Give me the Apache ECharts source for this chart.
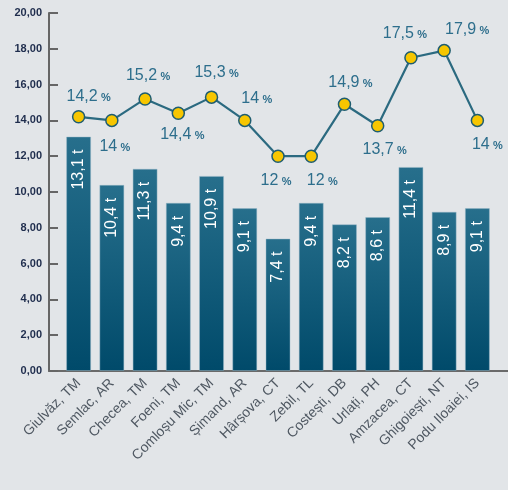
<!DOCTYPE html>
<html>
<head>
<meta charset="utf-8">
<script src="https://cdn.jsdelivr.net/npm/echarts@6/dist/echarts.min.js"></script>
<style>
  html, body { margin: 0; padding: 0; background: #e2e5e8; }
  #chart { width: 508px; height: 490px; }
</style>
</head>
<body>
<div id="chart"></div>
<script>
// Localities (village, county)
const categories = [
  'Giulvăz, TM', 'Semlac, AR', 'Checea, TM', 'Foeni, TM', 'Comloșu Mic, TM',
  'Șimand, AR', 'Hârșova, CT', 'Zebil, TL', 'Costești, DB', 'Urlați, PH',
  'Amzacea, CT', 'Ghigoiești, NT', 'Podu Iloaiei, IS'
];
// Yield, tonnes per hectare
const yieldT = [13.1, 10.4, 11.3, 9.4, 10.9, 9.1, 7.4, 9.4, 8.2, 8.6, 11.4, 8.9, 9.1];
// Moisture at harvest, %
const moisture = [14.2, 14, 15.2, 14.4, 15.3, 14, 12, 12, 14.9, 13.7, 17.5, 17.9, 14];
// Value axis ticks
const yMin = 0, yMax = 20, yStep = 2;

// Placement of each percentage label relative to its point [dx, dy]
const pctLabelOffsets = [
  [10, -20], [3, 26], [3, -23], [4, 21], [5, -25], [12, -22], [-2, 24],
  [11, 24], [6, -22], [7, 24], [-6, -24], [23, -21], [10, 24]
];

const fmt = v => String(v).replace('.', ',');

const chart = echarts.init(document.getElementById('chart'), null, { renderer: 'canvas' });

const gridTop = 13, gridBottom = 119;

chart.setOption({
  backgroundColor: '#e2e5e8',
  animation: false,
  grid: [
    { left: 62, width: 432, top: gridTop, bottom: gridBottom },
    { left: 49, right: 0, top: gridTop, bottom: gridBottom }
  ],
  xAxis: [
    {
      type: 'category', gridIndex: 0, data: categories,
      axisLine: { show: false }, axisTick: { show: false },
      axisLabel: {
        rotate: 45, margin: 10, interval: 0,
        color: '#4f5862', fontSize: 14, fontFamily: 'Liberation Sans, Arial, sans-serif'
      }
    },
    {
      type: 'value', gridIndex: 1, min: 0, max: 1,
      axisLine: { show: true, onZero: false, lineStyle: { color: '#6a6a6a', width: 2 } },
      axisTick: { show: false }, axisLabel: { show: false }, splitLine: { show: false }
    }
  ],
  yAxis: [
    {
      type: 'value', gridIndex: 0, min: yMin, max: yMax, interval: yStep, offset: 13,
      axisLine: { show: true, lineStyle: { color: '#666666', width: 2 } },
      axisTick: { show: true, inside: true, length: 9, lineStyle: { color: '#666666', width: 2 } },
      splitLine: { show: false },
      axisLabel: {
        margin: 7, color: '#1f2d4d', fontSize: 11, fontWeight: 'bold',
        fontFamily: 'Liberation Sans, Arial, sans-serif',
        formatter: v => v.toFixed(2).replace('.', ',')
      }
    },
    { type: 'value', gridIndex: 1, show: false, min: 0, max: 1 }
  ],
  series: [
    {
      type: 'bar', xAxisIndex: 0, yAxisIndex: 0,
      data: yieldT, barWidth: 25,
      itemStyle: {
        color: new echarts.graphic.LinearGradient(0, 0, 0, 1, [
          { offset: 0, color: '#276f8c' },
          { offset: 1, color: '#004a6a' }
        ]),
        borderColor: 'rgba(150,185,200,0.45)', borderWidth: 1
      },
      label: {
        show: true, position: 'insideTop', distance: 13, rotate: 90,
        align: 'right', verticalAlign: 'middle',
        color: '#ffffff', fontSize: 16, fontFamily: 'Liberation Sans, Arial, sans-serif',
        formatter: p => fmt(p.value) + ' t'
      }
    },
    {
      type: 'line', xAxisIndex: 0, yAxisIndex: 0,
      data: moisture.map((v, i) => ({
        value: v,
        label: { offset: pctLabelOffsets[i] }
      })),
      symbol: 'circle', symbolSize: 12,
      lineStyle: { color: '#2b6a80', width: 2.2 },
      itemStyle: { color: '#f7c600', borderColor: '#1f5d70', borderWidth: 1.5 },
      label: {
        show: true, position: 'inside', align: 'center', verticalAlign: 'middle',
        formatter: p => '{v|' + fmt(p.value) + '} {p|%}',
        rich: {
          v: { color: '#2d6e8c', fontSize: 16, fontFamily: 'Liberation Sans, Arial, sans-serif' },
          p: { color: '#2d6e8c', fontSize: 11, fontWeight: 'bold', fontFamily: 'Liberation Sans, Arial, sans-serif', padding: [3, 0, 0, 0] }
        }
      },
      z: 5
    }
  ]
});
</script>
</body>
</html>
